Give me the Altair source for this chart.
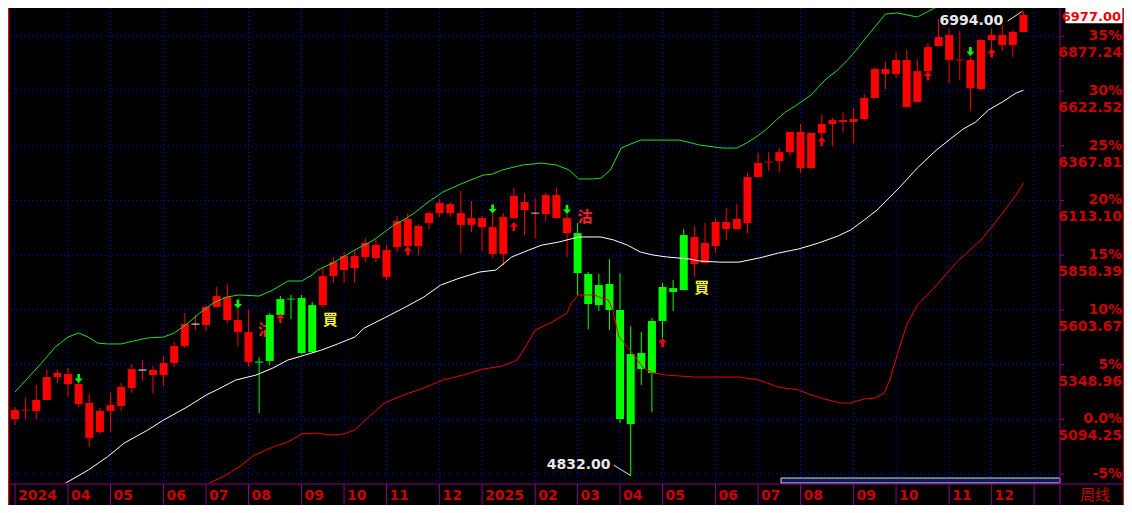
import altair as alt
import pandas as pd

# ---------------- weekly candles (index 0 = first week of Mar 2024) ----------------
idx = list(range(96))
open_ = [5095, 5135, 5133, 5184, 5291, 5258, 5165, 5007, 5035, 5133,
         5156, 5240, 5321, 5300, 5300, 5356, 5435, 5535, 5533, 5617,
         5556, 5500, 5361, 5363, 5580, 5654, 5656, 5659, 5626, 5626,
         5761, 5789, 5798, 5850, 5845, 5757, 5896, 5901, 5901, 6008,
         6054, 6054, 5999, 5999, 5989, 5864, 5864, 6031, 6068, 6052,
         6050, 6031, 5961, 5961, 5771, 5719, 5724, 5603, 5398, 5403,
         5552, 5710, 5705, 5952, 5817, 5822, 5901, 5980, 5980, 6008,
         6222, 6290, 6297, 6338, 6264, 6264, 6427, 6469, 6478, 6478,
         6492, 6590, 6702, 6702, 6548, 6571, 6715, 6832, 6767, 6765,
         6636, 6632, 6860, 6837, 6837, 6897]
close = [5137, 5139, 5184, 5291, 5310, 5305, 5258, 5170, 5133, 5161,
         5245, 5328, 5326, 5324, 5356, 5435, 5538, 5540, 5617, 5668,
         5663, 5556, 5500, 5358, 5366, 5580, 5652, 5403, 5407, 5761,
         5826, 5854, 5854, 5915, 5906, 5882, 6017, 6027, 5994, 6054,
         6101, 6096, 6054, 6031, 6031, 5989, 6036, 6134, 6106, 6056,
         6138, 6138, 6031, 5775, 5631, 5626, 5603, 5096, 5072, 5328,
         5310, 5552, 5687, 5696, 5943, 5915, 6013, 6013, 6027, 6222,
         6287, 6294, 6338, 6432, 6432, 6427, 6469, 6487, 6487, 6492,
         6590, 6725, 6725, 6767, 6767, 6715, 6827, 6874, 6883, 6769,
         6767, 6860, 6883, 6883, 6897, 6977]
high = [5151, 5193, 5254, 5324, 5324, 5333, 5296, 5212, 5147, 5217,
        5263, 5352, 5370, 5342, 5389, 5454, 5589, 5580, 5626, 5710,
        5724, 5612, 5603, 5384, 5589, 5668, 5673, 5673, 5640, 5798,
        5850, 5873, 5882, 5938, 5929, 5906, 6041, 6054, 6003, 6064,
        6120, 6106, 6157, 6110, 6041, 6054, 6054, 6171, 6148, 6124,
        6148, 6171, 6050, 6008, 5780, 5771, 5840, 5775, 5528, 5501,
        5566, 5729, 5743, 5980, 5994, 6008, 6031, 6078, 6096, 6241,
        6334, 6338, 6357, 6432, 6469, 6427, 6511, 6497, 6525, 6543,
        6608, 6734, 6757, 6804, 6813, 6771, 6846, 6958, 6911, 6902,
        6781, 6864, 6911, 6930, 6906, 6994]
low = [5068, 5095, 5095, 5184, 5263, 5198, 5151, 4965, 5026, 5035,
       5133, 5217, 5273, 5212, 5249, 5338, 5426, 5510, 5505, 5617,
       5542, 5435, 5338, 5123, 5347, 5542, 5561, 5398, 5403, 5612,
       5729, 5729, 5729, 5826, 5826, 5743, 5873, 5892, 5859, 5980,
       6036, 6036, 5868, 5966, 5878, 5845, 5812, 6027, 5952, 5938,
       6017, 6027, 5850, 5673, 5514, 5598, 5510, 5077, 4832, 5254,
       5128, 5473, 5598, 5696, 5757, 5822, 5868, 5929, 5980, 5961,
       6222, 6250, 6245, 6320, 6241, 6259, 6408, 6366, 6432, 6380,
       6483, 6590, 6632, 6683, 6548, 6571, 6715, 6832, 6660, 6674,
       6529, 6627, 6818, 6809, 6781, 6897]
# signal state of each candle: R = buy side (red), G = sell side (green), W = doji (red wick, pale body)
state = list("RRRRRRRRRRRRWRRRRWRRRRRGGGGGG"
             "RRRRRRRRRRRRRRRRRRRRWRRR"
             "GGGGGGGGGGG"
             "RRRRRRRRRRRRRRRRRRRRRRRRRRRRRRRR")

# ---------------- bands ----------------
upper_idx = [0, 1.3, 2.5, 3.8, 5, 6, 6.9, 7.8, 8.7, 10, 11.2, 12.5, 14, 15, 16.2, 17.4, 18.7, 19.9,
             21.1, 23, 24.3, 25.7, 27, 28, 28.5, 30.1, 32, 33.8, 35.7, 36.6, 37.6, 38.8, 40.3, 42.2,
             44.1, 45, 45.9, 47.8, 49.6, 51, 52.2, 53.1, 54.5, 55.2, 56.1, 57.1, 58.9, 60.8, 62.6,
             64.5, 66.6, 68, 68.9, 69.8, 70.7, 71.7, 72.6, 73.5, 75, 76.3, 77.5, 78.7, 79.4, 80.6,
             82, 83.1, 85, 86.8, 88.4, 89.9, 91.5, 93.5, 95]
upper_val = [5221, 5291, 5356, 5431, 5477, 5496, 5477, 5449, 5445, 5445, 5459, 5473, 5477, 5496,
             5538, 5589, 5636, 5663, 5673, 5668, 5696, 5738, 5738, 5766, 5789, 5826, 5882, 5929,
             5999, 6022, 6054, 6101, 6152, 6194, 6231, 6236, 6255, 6278, 6287, 6278, 6255, 6213,
             6213, 6217, 6255, 6357, 6394, 6394, 6394, 6371, 6357, 6357, 6380, 6408, 6441, 6487,
             6525, 6553, 6604, 6674, 6720, 6781, 6823, 6897, 6981, 6986, 6967, 7013, 7032, 7018,
             7027, 7032, 7032]
mid_idx = [4.8, 6.9, 8.7, 10.3, 12.5, 14, 16.2, 18, 19, 20.8, 22.7, 24.3, 25.7, 27.3, 28.9, 30.4,
           32, 32.9, 34.8, 36.6, 38.5, 40.1, 41.9, 43.8, 45.3, 46.8, 48.4, 49.6, 51.2, 52.7, 53.1,
           55.2, 56.4, 57.7, 58.9, 60.1, 61.4, 63.6, 64.5, 66.4, 68.2, 70.1, 71.9, 73.8, 75.7, 77.5,
           78.7, 80, 81.2, 83.1, 85, 86.8, 89.3, 90.5, 91.7, 93, 94.3, 95]
mid_val = [4798, 4858, 4919, 4984, 5044, 5091, 5151, 5207, 5231, 5277, 5300, 5333, 5370, 5393,
           5417, 5445, 5477, 5519, 5566, 5612, 5663, 5719, 5752, 5780, 5789, 5850, 5882, 5905,
           5919, 5938, 5943, 5943, 5929, 5905, 5873, 5859, 5850, 5840, 5831, 5826, 5826, 5845,
           5868, 5887, 5915, 5947, 5975, 6022, 6068, 6162, 6264, 6348, 6445, 6478, 6534, 6571,
           6613, 6626]
lower_idx = [18.3, 19.9, 21.1, 22.4, 24.3, 25.7, 27, 28.3, 29.8, 31, 32, 33.2, 34.8, 36.6, 38.5,
             40.3, 42.2, 44.1, 45.9, 47.3, 48.2, 49, 50.6, 52, 52.4, 53.1, 54.6, 55.2, 55.9, 56.3,
             56.9, 57.7, 58.3, 59.2, 60.1, 61.4, 63.9, 68.2, 70.1, 71.9, 73.8, 75, 76.6, 77.8, 78.7,
             80, 81, 81.9, 82.4, 83.1, 84, 85, 86.4, 88.7, 91, 92.9, 94.3, 95]
lower_val = [4798, 4835, 4872, 4923, 4965, 4988, 5026, 5030, 5021, 5026, 5044, 5100, 5170, 5207,
             5240, 5277, 5300, 5328, 5342, 5370, 5440, 5510, 5547, 5589, 5636, 5673, 5673, 5659,
             5650, 5603, 5477, 5431, 5393, 5333, 5310, 5300, 5291, 5291, 5277, 5244, 5231, 5207,
             5184, 5170, 5170, 5189, 5193, 5217, 5277, 5393, 5533, 5626, 5696, 5826, 5929, 6045,
             6138, 6194]

# ---------------- signals ----------------
down_arrow_idx = [6, 21, 45, 52, 90]
down_arrow_price = [5284, 5631, 6073, 6071, 6806]
up_arrow_idx = [25, 37, 47, 61, 76, 86, 92]
up_arrow_price = [5566, 5878, 5992, 5452, 6387, 6692, 6799]
sig_idx = [23.6, 53.7, 29.7, 64.7]
sig_price = [5510, 6036, 5556, 5705]
sig_text = ["沽", "沽", "買", "買"]
sig_kind = ["sell", "sell", "buy", "buy"]

# ---------------- axes ----------------
level_price = [4839.54, 5094.25, 5348.96, 5603.67, 5858.39, 6113.10, 6367.81, 6622.52, 6877.24]
level_pct = ["-5%", "0.0%", "5%", "10%", "15%", "20%", "25%", "30%", "35%"]
level_label = ["", "5094.25", "5348.96", "5603.67", "5858.39", "6113.10", "6367.81", "6622.52", "6877.24"]
month_idx = [0, 5, 9, 14, 18, 22, 27, 31, 35, 40, 44, 49, 53, 57, 61, 66, 70, 74, 79, 83, 88, 92, 96]
month_label = ["2024", "04", "05", "06", "07", "08", "09", "10", "11", "12", "2025",
               "02", "03", "04", "05", "06", "07", "08", "09", "10", "11", "12", ""]
last_price = 6977.00
extremes_text = ["6994.00", "4832.00"]
extremes_text_idx = [93.1, 56.1]
extremes_text_price = [6948, 4881]
extremes_idx = [94.9, 58]
extremes_price = [6994, 4832]
extremes_line_start_idx = [93.5, 56.4]

# ---------------- styling / layout ----------------
W, H = 1052, 476          # plot area
RW, BH = 64, 21           # right price column, bottom month band
RED = "#ff0000"
GREEN = "#00ff00"
AXRED = "#cc0000"
PURPLE = "#8c008c"
GRIDBLUE = "#0000e0"
NUMFONT = "DejaVu Sans"

xs = alt.Scale(domain=[-0.186, 97.97], nice=False, zero=False)
ys = alt.Scale(domain=[4793, 7009], nice=False, zero=False)


def X(f="idx"):
    return alt.X(f"{f}:Q", scale=xs, axis=None)


def Y(f="price"):
    return alt.Y(f"{f}:Q", scale=ys, axis=None)


one = pd.DataFrame({"a": [0]})
cdf = pd.DataFrame(dict(idx=idx, open=open_, close=close, high=high, low=low, state=state))
cdf["wick"] = ["G" if s == "G" else "R" for s in state]
lev = pd.DataFrame(dict(price=level_price, pct=level_pct, lab=level_label))
mon = pd.DataFrame(dict(idx=month_idx, lab=month_label))

layers = []

# grid
layers.append(alt.Chart(lev).mark_rule(color=GRIDBLUE, strokeDash=[1, 3], strokeWidth=1).encode(
    y=Y(), x=alt.value(0), x2=alt.value(W)))
layers.append(alt.Chart(mon).mark_rule(color=GRIDBLUE, strokeDash=[1, 3], strokeWidth=1).encode(
    x=X(), y=alt.value(0), y2=alt.value(H)))

# signal characters (under the candles)
sdf = pd.DataFrame(dict(idx=sig_idx, price=sig_price, txt=sig_text, kind=sig_kind))
for kind, col in [("sell", "#ff2020"), ("buy", "#ffff00")]:
    layers.append(alt.Chart(sdf).transform_filter(alt.datum.kind == kind).mark_text(
        font="Noto Sans CJK TC", fontSize=15, fontWeight="bold", color=col,
        align="center", baseline="middle").encode(x=X(), y=Y(), text="txt:N"))

# wicks
for s, col in [("R", RED), ("G", GREEN)]:
    layers.append(alt.Chart(cdf).transform_filter(alt.datum.wick == s).mark_rule(
        color=col, strokeWidth=1).encode(x=X(), y=Y("low"), y2=alt.Y2("high:Q")))
# bodies
for s, col in [("R", RED), ("G", GREEN), ("W", "#dceeff")]:
    layers.append(alt.Chart(cdf).transform_filter(alt.datum.state == s).mark_bar(
        color=col, size=8, orient="vertical").encode(x=X(), y=Y("open"), y2=alt.Y2("close:Q")))

# bands
for bi, bv, col in [(upper_idx, upper_val, "#22e022"), (mid_idx, mid_val, "#ffffff"),
                    (lower_idx, lower_val, "#ee0000")]:
    layers.append(alt.Chart(pd.DataFrame(dict(idx=bi, price=bv))).mark_line(
        color=col, strokeWidth=1).encode(x=X(), y=Y()))

# arrows
UP_PATH = "M0,-1L0.9,0L0.3,0L0.3,1L-0.3,1L-0.3,0L-0.9,0Z"
DOWN_PATH = "M0,1L0.9,0L0.3,0L0.3,-1L-0.3,-1L-0.3,0L-0.9,0Z"
layers.append(alt.Chart(pd.DataFrame(dict(idx=down_arrow_idx, price=down_arrow_price))).mark_point(
    shape=DOWN_PATH, filled=True, size=81, color=GREEN, opacity=1, strokeWidth=0).encode(x=X(), y=Y()))
layers.append(alt.Chart(pd.DataFrame(dict(idx=up_arrow_idx, price=up_arrow_price))).mark_point(
    shape=UP_PATH, filled=True, size=81, color=RED, opacity=1, strokeWidth=0).encode(x=X(), y=Y()))

# extreme annotations
edf = pd.DataFrame(dict(tidx=extremes_text_idx, tprice=extremes_text_price, txt=extremes_text,
                        idx=extremes_idx, price=extremes_price, sidx=extremes_line_start_idx))
layers.append(alt.Chart(edf).mark_rule(color="#e8e8e8", strokeWidth=1).encode(
    x=X("sidx"), y=Y("tprice"), x2=alt.X2("idx:Q"), y2=alt.Y2("price:Q")))
layers.append(alt.Chart(edf).mark_text(font=NUMFONT, fontSize=14, fontWeight="bold", color="#e8e8e8",
                                       align="right", baseline="middle").encode(
    x=X("tidx"), y=Y("tprice"), text="txt:N"))

# scrollbar
layers.append(alt.Chart(one).mark_rect(fill="#0c1a5a", stroke="#d8d8d8", strokeWidth=1).encode(
    x=alt.value(773), x2=alt.value(W), y=alt.value(H - 6), y2=alt.value(H - 1)))

# right axis
layers.append(alt.Chart(one).mark_rule(color=PURPLE, strokeWidth=1).encode(
    x=alt.value(W), y=alt.value(0), y2=alt.value(H + BH)))
layers.append(alt.Chart(one).mark_rule(color=PURPLE, strokeWidth=1).encode(
    y=alt.value(H), x=alt.value(0), x2=alt.value(W + RW)))
layers.append(alt.Chart(lev).mark_rule(color=PURPLE, strokeWidth=1).encode(
    y=Y(), x=alt.value(W), x2=alt.value(W + 4)))
layers.append(alt.Chart(lev).mark_text(font=NUMFONT, fontSize=14, fontWeight="bold", color=AXRED,
                                       align="right", baseline="middle").encode(
    y=Y(), x=alt.value(W + RW - 2), text="pct:N"))
layers.append(alt.Chart(lev).mark_text(font=NUMFONT, fontSize=14, fontWeight="bold", color=AXRED,
                                       align="right", baseline="middle", dy=17).encode(
    y=Y(), x=alt.value(W + RW - 2), text="lab:N"))

# current price box
cur = pd.DataFrame(dict(price=[last_price], txt=["%.2f" % last_price]))
BOX = "M-1,-0.29H1V0.29H-1Z"
layers.append(alt.Chart(cur).mark_point(shape=BOX, filled=True, size=3249, color="white",
                                        opacity=1, strokeWidth=0, dy=2).encode(
    x=alt.value(W + 34), y=Y()))
layers.append(alt.Chart(cur).mark_text(font=NUMFONT, fontSize=13, fontWeight="bold", color="#ee0000",
                                       align="right", baseline="middle", dy=2).encode(
    x=alt.value(W + RW - 3), y=Y(), text="txt:N"))

# bottom axis (months)
layers.append(alt.Chart(mon).mark_rule(color=PURPLE, strokeWidth=1).encode(
    x=X(), y=alt.value(H), y2=alt.value(H + BH)))
layers.append(alt.Chart(mon).mark_text(font=NUMFONT, fontSize=14, fontWeight="bold", color=AXRED,
                                       align="left", baseline="middle", dx=3).encode(
    x=X(), y=alt.value(H + 12), text="lab:N"))
layers.append(alt.Chart(one).mark_text(font="Noto Sans CJK SC", fontSize=15, color=AXRED,
                                       align="center", baseline="middle", text="周线").encode(
    x=alt.value(W + 35), y=alt.value(H + 11)))

# red frame edges
for xv in [0.5, W + RW - 0.5]:
    layers.append(alt.Chart(one).mark_rule(color=RED, strokeWidth=1).encode(
        x=alt.value(xv), y=alt.value(0), y2=alt.value(H + BH)))

chart = alt.layer(*layers).properties(
    width=W, height=H, background="black",
    padding={"left": 0, "top": 0, "right": RW, "bottom": BH},
    autosize=alt.AutoSizeParams(type="none"),
).configure_view(strokeWidth=0)

chart.save("out.html", embed_options={"renderer": "svg", "actions": False})
